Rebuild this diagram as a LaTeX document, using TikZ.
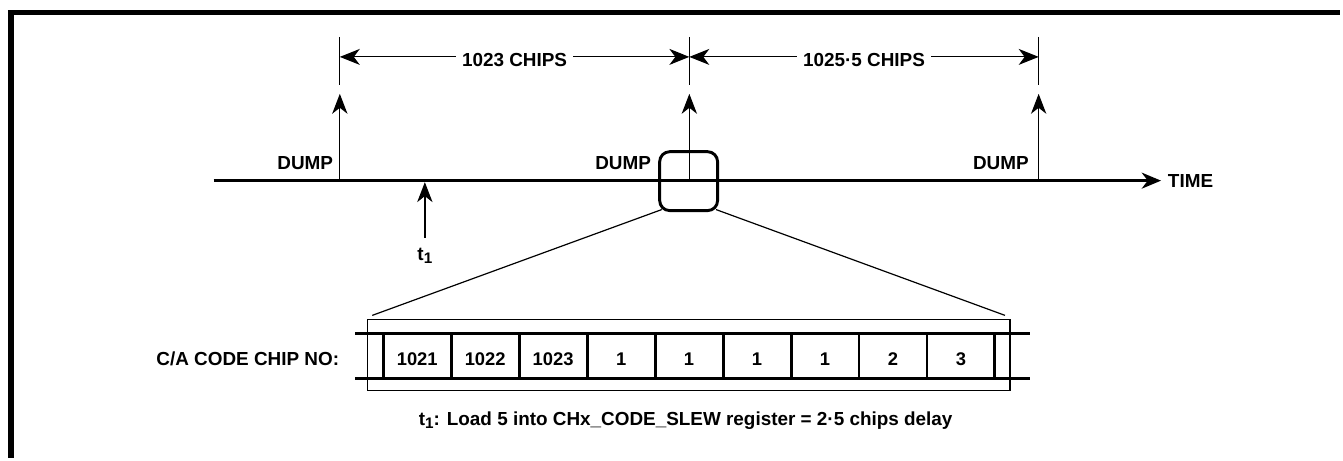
\documentclass[tikz,border=0pt]{standalone}
\usepackage{fontspec}
\setmainfont{Liberation Sans}
\usetikzlibrary{arrows.meta}
\newcommand\mysub[1]{\raisebox{-0.35ex}{\fontsize{11.5pt}{12pt}\selectfont #1}}
\begin{document}
\begin{tikzpicture}[x=0.75pt,y=-0.75pt,
  lbl/.style={font=\fontsize{14.2pt}{16pt}\selectfont\bfseries, inner sep=0pt, anchor=base},
  dimlbl/.style={lbl, inner xsep=4.5pt},
  celltxt/.style={font=\fontsize{13.8pt}{16pt}\selectfont\bfseries},
  arrowline/.style={line width=1pt, -{Stealth[length=15pt,width=11.5pt,inset=4.5pt]}},
  axisline/.style={line width=2pt, -{Stealth[length=14.5pt,width=12pt,inset=4.5pt]}},
  dimline/.style={line width=0.9pt, -{Stealth[length=15pt,width=12pt,inset=4.5pt]}},
  tick/.style={line width=0.9pt},
  rail/.style={line width=2pt},
  cellbox/.style={draw, line width=2.2pt, minimum width=51.075pt, minimum height=33.75pt, inner sep=0pt, outer sep=0pt},
  thinframe/.style={draw, line width=0.8pt, inner sep=0pt},
  zoomline/.style={line width=0.9pt}
]
% canvas and border
\fill[white] (0,0) rectangle (1343,459);
\draw[line width=4pt] (8,12.5) -- (1343,12.5);
\draw[line width=4.2pt] (11,10.5) -- (11,459);

% time axis
\coordinate (axL) at (214,181);
\node (time) [lbl, anchor=base west] at (1170,188) {TIME};
\draw[axisline, shorten >=5pt] (axL) -- (axL -| time.west);

% dump arrows
\foreach \i/\x in {1/340.5, 2/690.7, 3/1040.7} {
  \coordinate (p\i) at (\x,181);
  \coordinate (q\i) at (\x,94);
  \coordinate (kt\i) at (\x,37);
  \coordinate (kb\i) at (\x,85);
  \coordinate (m\i) at (\x,57);
  \draw[arrowline] (p\i) -- (q\i);
  \draw[tick] (kt\i) -- (kb\i);
}
\node (dump1) [lbl, anchor=base east] at (334,170) {DUMP};
\node (dump2) [lbl, anchor=base east] at (652.5,170) {DUMP};
\node (dump3) [lbl, anchor=base east] at (1031,170) {DUMP};

% dimension labels
\node (c1) [dimlbl] at (515.6,67) {1023 CHIPS};
\node (c2) [dimlbl] at (865.7,67) {1025·5 CHIPS};
\draw[dimline] (c1.west |- m1) -- (m1);
\draw[dimline] (c1.east |- m1) -- (m2);
\draw[dimline] (c2.west |- m2) -- (m2);
\draw[dimline] (c2.east |- m2) -- (m3);

% t1 marker
\coordinate (t1b) at (425.7,238);
\coordinate (t1t) at (425.7,182.5);
\draw[arrowline] (t1b) -- (t1t);
\node (t1lbl) [lbl] at (425.7,261) {t\mysub{1}};

% zoom square
\node (zoomsq) [draw, line width=2.2pt, rounded corners=7.5pt, minimum width=43.5pt, minimum height=44.25pt, inner sep=0pt] at (690,181.5) {};
\coordinate (zl1) at (663,210);
\coordinate (zr1) at (717.5,210);
\coordinate (zl2) at (373,316);
\coordinate (zr2) at (1007,316);
\draw[zoomline] (zl1) -- (zl2);
\draw[zoomline] (zr1) -- (zr2);

% register strip
\node (frame) [thinframe, minimum width=483pt, minimum height=53.25pt] at (690,355.5) {};
\coordinate (rtl) at (356,334);
\coordinate (rtr) at (1032,334);
\coordinate (rbl) at (356,379);
\coordinate (rbr) at (1032,379);
\draw[rail] (rtl) -- (rtr);
\draw[rail] (rbl) -- (rbr);
\foreach \n [count=\i] in {1021,1022,1023,1,1,1,1,2,3} {
  \node (cell\i) [cellbox] at ({384+68.1*(\i-0.5)},356.5) {};
  \node (num\i) [celltxt, anchor=base, inner sep=0pt] at ({384+68.1*(\i-0.5)},366.5) {\n};
}
\node (chiplbl) [lbl, anchor=base east] at (340,366) {C/A CODE CHIP NO:};

% caption
\node (caption) [lbl] at (687,426) {t\mysub{1}: Load 5 into CHx\_CODE\_SLEW register = 2·5 chips delay};
\end{tikzpicture}
\end{document}
